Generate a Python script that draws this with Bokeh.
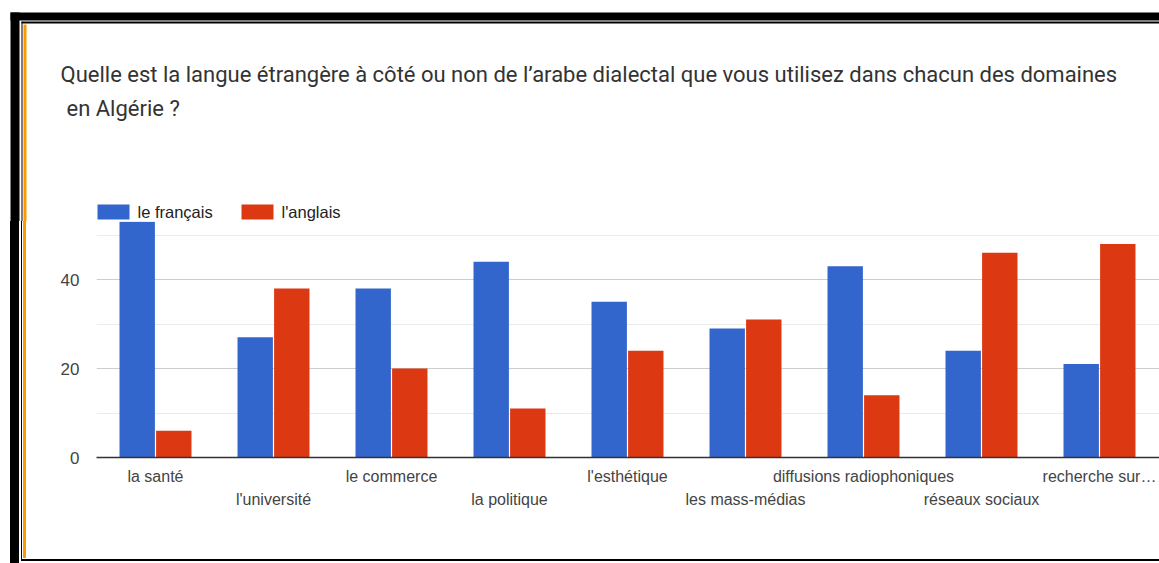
from bokeh.plotting import figure
from bokeh.models import Range1d, FixedTicker, LinearAxis, ColumnDataSource
from bokeh.layouts import column
from bokeh.transform import dodge
from bokeh.core.properties import value
from bokeh.embed import file_html
from bokeh.resources import INLINE

categories = ["la santé", "l'université", "le commerce", "la politique", "l'esthétique",
              "les mass-médias", "diffusions radiophoniques", "réseaux sociaux", "recherche sur…"]
francais = [53, 27, 38, 44, 35, 29, 43, 24, 21]
anglais = [6, 38, 20, 11, 24, 31, 14, 46, 48]
series_names = ["le français", "l'anglais"]
y_ticks = [0, 20, 40]
y_minor = [10, 30, 50]
title_lines = ["Quelle est la langue étrangère à côté ou non de l’arabe dialectal que  vous utilisez  dans chacun des domaines",
               "en Algérie ?"]

BLUE = "#3366cc"
RED = "#dc3912"
ORANGE = "#ff9900"
TOTAL_W, TOTAL_H = 1159, 563
HEADER_H = 221          # page y where the plot frame starts
MAIN_H = TOTAL_H - HEADER_H
FRAME_LEFT = 96         # page x of plot frame
BASELINE = 457          # page y of value 0
CAT_PX = 118.0
PX_PER_UNIT = 4.45

# ---------------- header (title, legend, top frame) ----------------
hdr = figure(width=TOTAL_W, height=HEADER_H, output_backend="svg", toolbar_location=None,
             x_range=Range1d(0, TOTAL_W), y_range=Range1d(HEADER_H, 0),
             min_border=0, x_axis_location=None, y_axis_location=None,
             frame_align=False)
hdr.outline_line_color = None
hdr.grid.visible = False
hdr.background_fill_color = "white"
hdr.border_fill_color = "white"


def band(f, l, r, t, b, color):
    f.quad(left=l, right=r, top=t, bottom=b, fill_color=color, line_color=None)


band(hdr, 10, TOTAL_W, 12, 20, "black")
band(hdr, 10, 19, 12, HEADER_H, "black")
band(hdr, 21, TOTAL_W, 21, 23, "black")
band(hdr, 21, 22, 21, HEADER_H, "black")
band(hdr, 23, 26, 24, HEADER_H, ORANGE)

hdr.text(x=[60, 66], y=[74, 107.5], text=title_lines, text_font=value("Roboto"),
         text_font_size="22px", text_color="#333333", text_baseline="middle",
         text_align="left")

# legend (manual)
sw_w, sw_top, sw_bot = 32, 204, 219
leg_x = [97, 241]
hdr.quad(left=leg_x, right=[x + sw_w for x in leg_x], top=[sw_top] * 2, bottom=[sw_bot] * 2,
         fill_color=[BLUE, RED], line_color=None)
hdr.text(x=[x + sw_w + 8 for x in leg_x], y=[211.3, 211.3], text=series_names,
         text_font=value("Liberation Sans"), text_font_size="16.5px",
         text_color="#222222", text_baseline="middle", text_align="left")

# ---------------- main chart ----------------
frame_w = TOTAL_W - FRAME_LEFT
frame_h = BASELINE - HEADER_H
pos = list(range(len(categories)))
src = ColumnDataSource(dict(x=pos, fr=francais, an=anglais))

p = figure(width=TOTAL_W, height=MAIN_H, output_backend="svg", toolbar_location=None,
           x_range=Range1d(-0.5, frame_w / CAT_PX - 0.5),
           y_range=Range1d(0, frame_h / PX_PER_UNIT),
           min_border_left=FRAME_LEFT, min_border_top=0, min_border_right=0,
           min_border_bottom=MAIN_H - frame_h, x_axis_location=None,
           frame_align=False)
p.outline_line_color = None
p.background_fill_color = "white"
p.border_fill_color = None

# page frame continues on the left and at the bottom (drawn behind the transparent border)
bottom_line_top = 559.5 - HEADER_H
bottom_line_bot = 561 - HEADER_H
p.styles = {
    "background-color": "white",
    "background-image": ", ".join([
        "linear-gradient(to right, transparent 10px, black 10px, black 19px, transparent 19px)",
        "linear-gradient(to right, transparent 21px, black 21px, black 22px, transparent 22px)",
        "linear-gradient(to right, transparent 23px, %s 23px, %s 26px, transparent 26px)" % (ORANGE, ORANGE),
        "linear-gradient(to bottom, transparent %spx, black %spx, black %spx, transparent %spx)"
        % (bottom_line_top, bottom_line_top, bottom_line_bot, bottom_line_bot),
    ]),
    "background-size": "100%% 100%%, 100%% %spx, 100%% %spx, calc(100%% - 21px) 100%%"
                       % (bottom_line_bot, 558 - HEADER_H),
    "background-position": "0 0, 0 0, 0 0, 21px 0",
    "background-repeat": "no-repeat",
}

p.vbar(x=dodge("x", -0.155, range=p.x_range), top="fr", width=0.3, source=src,
       fill_color=BLUE, line_color=None)
p.vbar(x=dodge("x", 0.155, range=p.x_range), top="an", width=0.3, source=src,
       fill_color=RED, line_color=None)

yax = p.yaxis[0]
yax.ticker = FixedTicker(ticks=y_ticks, minor_ticks=y_minor)
yax.axis_line_color = None
yax.major_tick_out = 0
yax.major_tick_in = 0
yax.minor_tick_out = 0
yax.minor_tick_in = 0
yax.major_label_standoff = 17
yax.major_label_text_font = "Liberation Sans"
yax.major_label_text_font_size = "17px"
yax.major_label_text_color = "#444444"

p.xgrid.visible = False
p.ygrid.grid_line_color = "#cccccc"
p.ygrid.minor_grid_line_color = "#ebebeb"


def make_axis(idx, line, standoff):
    ax = LinearAxis(ticker=FixedTicker(ticks=idx, minor_ticks=[]),
                    major_label_overrides={i: categories[i] for i in idx})
    ax.axis_line_color = "#333333" if line else None
    ax.axis_line_width = 1.5
    ax.major_tick_out = 0
    ax.major_tick_in = 0
    ax.minor_tick_out = 0
    ax.minor_tick_in = 0
    ax.major_label_standoff = standoff
    ax.major_label_text_font = "Liberation Sans"
    ax.major_label_text_font_size = "16px"
    ax.major_label_text_color = "#444444"
    return ax


p.add_layout(make_axis(pos[0::2], True, 10), "below")
p.add_layout(make_axis(pos[1::2], False, 3), "below")

layout = column(hdr, p)
open("out.html", "w").write(file_html(layout, INLINE))
